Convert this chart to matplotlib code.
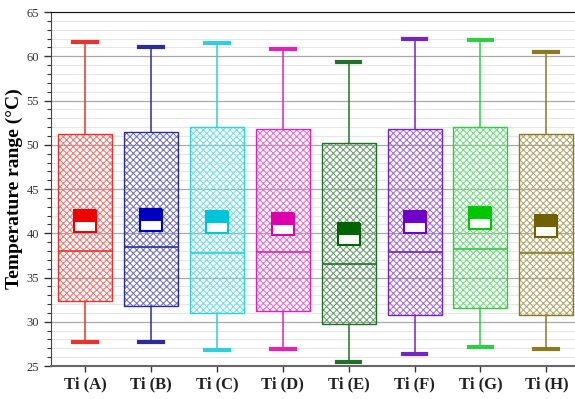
import matplotlib
matplotlib.use("Agg")
import matplotlib.pyplot as plt
from matplotlib.colors import to_rgb
from matplotlib.patches import PathPatch
from matplotlib.ticker import MultipleLocator

plt.rcParams["font.family"] = "Liberation Serif"
plt.rcParams["hatch.linewidth"] = 0.7

# --- Data
labels = ["Ti (A)", "Ti (B)", "Ti (C)", "Ti (D)", "Ti (E)", "Ti (F)", "Ti (G)", "Ti (H)"]
whislo = [27.75, 27.75, 26.8, 26.9, 25.5, 26.4, 27.2, 26.9]
q1 = [32.3, 31.8, 31.0, 31.2, 29.7, 30.8, 31.6, 30.8]
med = [38.0, 38.5, 37.8, 37.85, 36.5, 37.9, 38.2, 37.8]
q3 = [51.2, 51.5, 52.0, 51.8, 50.2, 51.8, 52.0, 51.2]
whishi = [61.65, 61.0, 61.5, 60.8, 59.4, 62.0, 61.8, 60.5]
means = [41.35, 41.45, 41.25, 41.1, 39.9, 41.3, 41.7, 40.85]

colors = ["#e8342f", "#2b2b9e", "#2fcfdc", "#e023b6", "#22702a", "#7423c8", "#2fcc45", "#8a7a22"]
fills = ["#ee0000", "#0000c0", "#00c4d8", "#dd00aa", "#006400", "#6e00c8", "#00c800", "#706000"]


def lighten(c, f):
    r, g, b = to_rgb(c)
    return (r + (1 - r) * f, g + (1 - g) * f, b + (1 - b) * f)


stats = []
for i in range(len(labels)):
    stats.append({"label": labels[i], "whislo": whislo[i], "q1": q1[i], "med": med[i],
                  "q3": q3[i], "whishi": whishi[i], "fliers": []})

fig = plt.figure(figsize=(5.75, 3.99), dpi=100)
ax = fig.add_axes([0.0887, 0.0827, 0.9113, 0.887])

pos = list(range(1, len(labels) + 1))
bp = ax.bxp(stats, positions=pos, widths=0.82, patch_artist=True, showfliers=False,
            capwidths=0.36, manage_ticks=False)

for i, c in enumerate(colors):
    box = bp["boxes"][i]
    # hatch in a lighter tint, outline drawn on top in full colour
    box.set_facecolor("none")
    box.set_edgecolor(lighten(c, 0.3))
    box.set_hatch("xxxxx")
    box.set_linewidth(0)
    box.set_zorder(3)
    ax.add_patch(PathPatch(box.get_path(), facecolor="none", edgecolor=c,
                           linewidth=1.0, zorder=4))
    bp["medians"][i].set_color(c)
    bp["medians"][i].set_linewidth(1.2)
    bp["medians"][i].set_zorder(4)
    for w in bp["whiskers"][2 * i:2 * i + 2]:
        w.set_color(c)
        w.set_linewidth(1.1)
    for cp in bp["caps"][2 * i:2 * i + 2]:
        cp.set_color(c)
        cp.set_linewidth(3)
    ax.plot(pos[i], means[i], marker="s", markersize=16, fillstyle="top",
            markerfacecolor=fills[i], markerfacecoloralt="white",
            markeredgecolor=fills[i], markeredgewidth=1.5, zorder=5)

ax.set_xlim(0.484, 8.435)
ax.set_ylim(25, 65)
ax.set_xticks(pos)
ax.set_xticklabels(labels, fontsize=12, fontweight="bold")
ax.yaxis.set_major_locator(MultipleLocator(5))
ax.yaxis.set_minor_locator(MultipleLocator(1))
ax.tick_params(axis="y", which="major", length=5, width=1, labelsize=9, colors="#333333")
ax.tick_params(axis="y", which="minor", length=3, width=0.8, colors="#333333")
ax.tick_params(axis="x", length=4, width=1, colors="#333333", labelcolor="#222222")

ax.grid(axis="y", which="major", color="#a8a8a8", linewidth=0.9, zorder=0)
ax.grid(axis="y", which="minor", color="#e6e6e6", linewidth=0.8, zorder=0)
ax.set_axisbelow(True)

ax.spines["top"].set_color("#111111")
ax.spines["left"].set_color("#444444")
ax.spines["bottom"].set_color("#666666")
ax.spines["bottom"].set_linewidth(1.5)
ax.spines["right"].set_visible(False)

ax.set_ylabel("Temperature range (°C)", fontsize=14, fontweight="bold", labelpad=3)

fig.savefig("out.png", dpi=100)
